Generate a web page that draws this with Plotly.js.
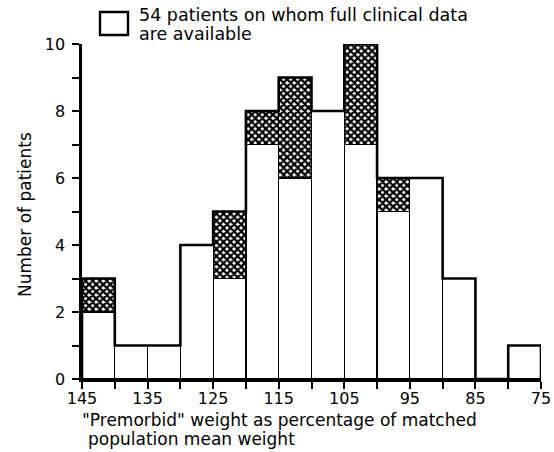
<!DOCTYPE html>
<html>
<head>
<meta charset="utf-8">
<script src="https://cdn.plot.ly/plotly-3.0.1.min.js"></script>
<style>html,body{margin:0;padding:0;background:#fff;}#chart{width:554px;height:452px;}</style>
</head>
<body>
<div id="chart"></div>
<script>
// Bin upper edges (x axis runs from 145 down to 75), bin width 5
var binStart = [145, 140, 135, 130, 125, 120, 115, 110, 105, 100, 95, 90, 85, 80];
var binWidth = 5;
// 54 patients on whom full clinical data are available (white)
var fullData = [2, 1, 1, 4, 3, 7, 6, 8, 7, 5, 6, 3, 0, 1];
// remaining patients (cross-hatched)
var otherPatients = [1, 0, 0, 0, 2, 1, 3, 0, 3, 1, 0, 0, 0, 0];
var xTickVals = [145, 140, 135, 130, 125, 120, 115, 110, 105, 100, 95, 90, 85, 80, 75];
var xTickText = ['145', '', '135', '', '125', '', '115', '', '105', '', '95', '', '85', '', '75'];
var yTickVals = [0, 1, 2, 3, 4, 5, 6, 7, 8, 9, 10];
var yTickText = ['0', '', '2', '', '4', '', '6', '', '8', '', '10'];

var FONT = 'DejaVu Sans';
var centers = binStart.map(function (s) { return s - binWidth / 2; });
var totals = fullData.map(function (v, i) { return v + otherPatients[i]; });

// outer step outline built from totals
var ox = [binStart[0]], oy = [0];
binStart.forEach(function (s, i) {
  ox.push(s); oy.push(totals[i]);
  ox.push(s - binWidth); oy.push(totals[i]);
});
ox.push(binStart[binStart.length - 1] - binWidth); oy.push(0);

var traces = [
  {
    type: 'bar', x: centers, y: fullData, width: binWidth,
    marker: { color: 'white', line: { color: 'black', width: 1.2 } },
    hoverinfo: 'skip', showlegend: false
  },
  {
    type: 'bar', x: centers, y: otherPatients, width: binWidth,
    marker: {
      color: 'white',
      line: { color: 'black', width: 1.2 },
      pattern: { shape: 'x', fgcolor: 'black', bgcolor: 'white', size: 5, solidity: 0.7, fillmode: 'replace' }
    },
    hoverinfo: 'skip', showlegend: false
  },
  {
    type: 'scatter', mode: 'lines', x: ox, y: oy,
    line: { color: 'black', width: 2.6, shape: 'linear' },
    cliponaxis: false, hoverinfo: 'skip', showlegend: false
  }
];

function px(x) { return (x - 82) / 459; }
function py(y) { return (379 - y) / 335; }

var layout = {
  width: 554, height: 452,
  margin: { l: 82, r: 13, t: 44, b: 73 },
  paper_bgcolor: 'white', plot_bgcolor: 'white',
  barmode: 'stack', bargap: 0,
  font: { family: FONT, size: 16, color: 'black' },
  xaxis: {
    range: [145, 75], showgrid: false, zeroline: false,
    showline: true, linewidth: 2.6, linecolor: 'black',
    ticks: 'outside', ticklen: 7, tickwidth: 2, tickcolor: 'black',
    tickvals: xTickVals, ticktext: xTickText, ticklabelstandoff: -4,
    tickfont: { family: FONT, size: 16, color: 'black' }
  },
  yaxis: {
    range: [0, 10], showgrid: false, zeroline: false,
    showline: true, linewidth: 2.6, linecolor: 'black',
    ticks: 'outside', ticklen: 7, tickwidth: 2, tickcolor: 'black',
    tickvals: yTickVals, ticktext: yTickText, ticklabelstandoff: 4,
    tickfont: { family: FONT, size: 16, color: 'black' }
  },
  shapes: [
    { type: 'rect', xref: 'paper', yref: 'paper', x0: px(100), x1: px(128), y0: py(35), y1: py(12),
      line: { color: 'black', width: 2.4 }, fillcolor: 'white' }
  ],
  annotations: [
    { xref: 'paper', yref: 'paper', x: px(137), y: py(15), xanchor: 'left', yanchor: 'middle',
      text: '54 patients on whom full clinical data', showarrow: false, font: { family: FONT, size: 17.5 } },
    { xref: 'paper', yref: 'paper', x: px(137), y: py(34), xanchor: 'left', yanchor: 'middle',
      text: 'are available', showarrow: false, font: { family: FONT, size: 17.5 } },
    { xref: 'paper', yref: 'paper', x: px(80), y: py(420), xanchor: 'left', yanchor: 'middle',
      text: '"Premorbid" weight as percentage of matched', showarrow: false, font: { family: FONT, size: 17 } },
    { xref: 'paper', yref: 'paper', x: px(86), y: py(439), xanchor: 'left', yanchor: 'middle',
      text: 'population mean weight', showarrow: false, font: { family: FONT, size: 17 } },
    { xref: 'paper', yref: 'paper', x: px(25), y: py(215), xanchor: 'center', yanchor: 'middle',
      text: 'Number of patients', textangle: -90, showarrow: false, font: { family: FONT, size: 17 } }
  ]
};

Plotly.newPlot('chart', traces, layout, { staticPlot: true, displayModeBar: false });
</script>
</body>
</html>
